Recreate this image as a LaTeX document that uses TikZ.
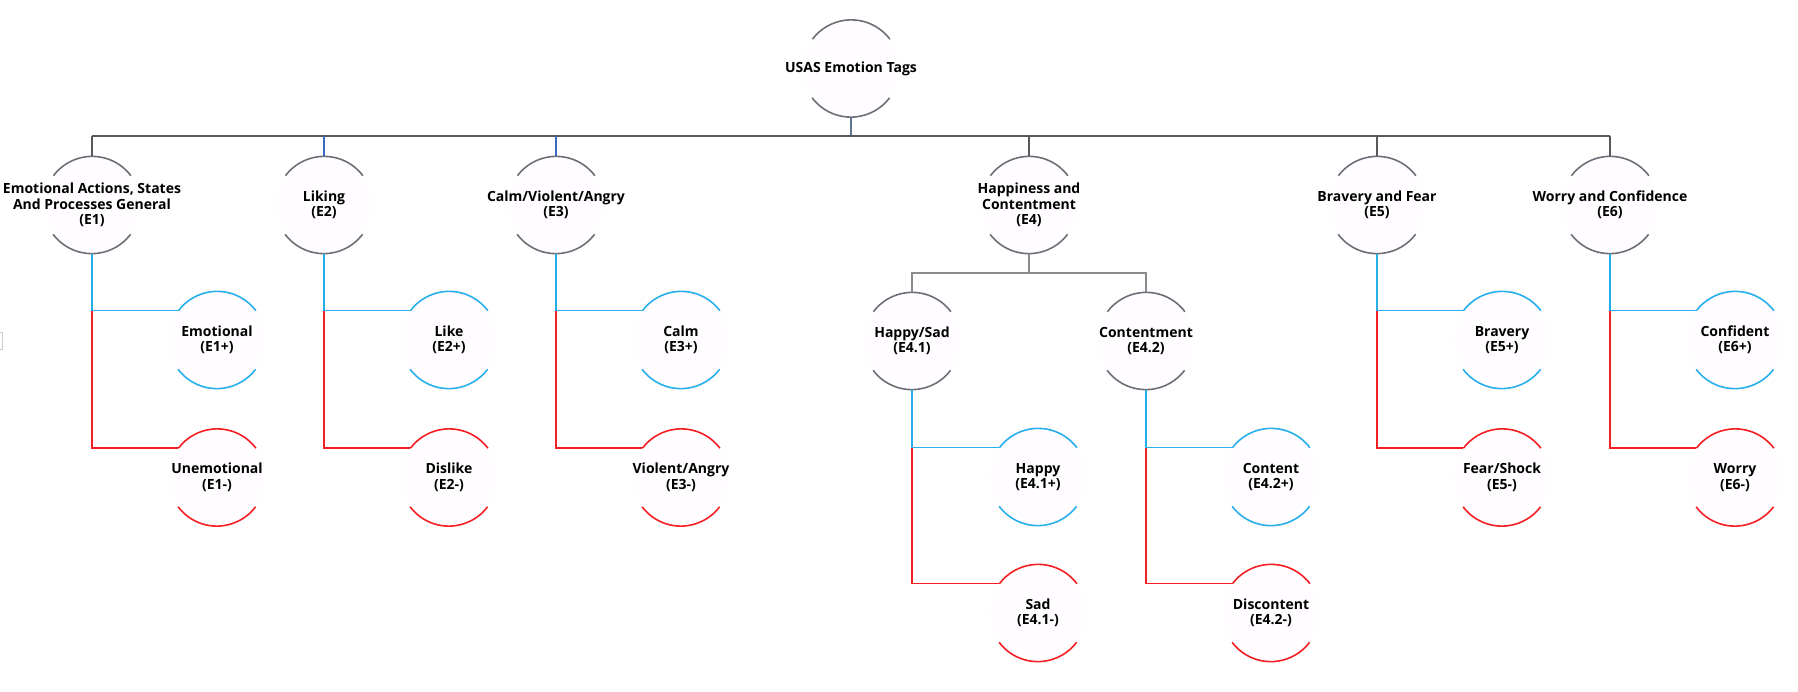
\documentclass[tikz,border=0pt]{standalone}
\usepackage{fontspec}
\setmainfont{Open Sans}
\definecolor{arcgray}{RGB}{110,110,118}
\definecolor{busgray}{RGB}{88,88,92}
\definecolor{subgray}{RGB}{140,140,140}
\definecolor{stemblue}{RGB}{60,105,190}
\definecolor{topstem}{RGB}{95,115,145}
\definecolor{posblue}{RGB}{40,175,235}
\definecolor{negred}{RGB}{245,30,35}
\definecolor{faint}{RGB}{255,253,255}
\newcommand\circarcs[2]{%
  \draw[#2] (#1.37) arc[start angle=37,end angle=143,radius=48.5pt];
  \draw[#2] (#1.217) arc[start angle=217,end angle=323,radius=48.5pt];}
\begin{document}
\begin{tikzpicture}[x=1pt,y=-1pt,
  circ/.style={circle,minimum size=97pt,inner sep=0pt,fill=faint},
  lbl/.style={font=\bfseries\fontsize{14}{15.5}\selectfont,align=center,text=black,inner sep=0pt},
  garc/.style={draw=arcgray,line width=1.6pt},
  barc/.style={draw=posblue,line width=1.6pt},
  rarc/.style={draw=negred,line width=1.6pt},
  busline/.style={draw=busgray,line width=2pt},
  subline/.style={draw=subgray,line width=1.8pt},
  bstem/.style={draw=stemblue,line width=1.8pt},
  pline/.style={draw=posblue,line width=1.5pt},
  nline/.style={draw=negred,line width=1.5pt}]
\useasboundingbox (0,0) rectangle (1798,692);
% nodes
\node[circ] (top) at (851,68.5) {};
\node[circ] (e1) at (92,205) {};
\node[circ] (e2) at (324,205) {};
\node[circ] (e3) at (556,205) {};
\node[circ] (e4) at (1029,205) {};
\node[circ] (e5) at (1377,205) {};
\node[circ] (e6) at (1610,205) {};
\node[circ] (e1p) at (217,340) {};
\node[circ] (e1m) at (217,477.5) {};
\node[circ] (e2p) at (449,340) {};
\node[circ] (e2m) at (449,477.5) {};
\node[circ] (e3p) at (681,340) {};
\node[circ] (e3m) at (681,477.5) {};
\node[circ] (e41) at (912,341) {};
\node[circ] (e42) at (1146,341) {};
\node[circ] (e41p) at (1038,477) {};
\node[circ] (e41m) at (1038,613) {};
\node[circ] (e42p) at (1271,477) {};
\node[circ] (e42m) at (1271,613) {};
\node[circ] (e5p) at (1502,340) {};
\node[circ] (e5m) at (1502,477.5) {};
\node[circ] (e6p) at (1735,340) {};
\node[circ] (e6m) at (1735,477.5) {};
% arcs
\circarcs{top}{garc}
\foreach \n in {e1,e2,e3,e4,e5,e6,e41,e42} {\circarcs{\n}{garc}}
\foreach \n in {e1p,e2p,e3p,e41p,e42p,e5p,e6p} {\circarcs{\n}{barc}}
\foreach \n in {e1m,e2m,e3m,e41m,e42m,e5m,e6m} {\circarcs{\n}{rarc}}
% labels
\node[lbl] (ttop) at (top) {USAS Emotion Tags};
\node[lbl] (te1) at (e1) {Emotional Actions, States\\And Processes General\\(E1)};
\node[lbl] (te2) at (e2) {Liking\\(E2)};
\node[lbl] (te3) at (e3) {Calm/Violent/Angry\\(E3)};
\node[lbl] (te4) at (e4) {Happiness and\\Contentment\\(E4)};
\node[lbl] (te5) at (e5) {Bravery and Fear\\(E5)};
\node[lbl] (te6) at (e6) {Worry and Confidence\\(E6)};
\node[lbl] (te1p) at (e1p) {Emotional\\(E1+)};
\node[lbl] (te1m) at (e1m) {Unemotional\\(E1-)};
\node[lbl] (te2p) at (e2p) {Like\\(E2+)};
\node[lbl] (te2m) at (e2m) {Dislike\\(E2-)};
\node[lbl] (te3p) at (e3p) {Calm\\(E3+)};
\node[lbl] (te3m) at (e3m) {Violent/Angry\\(E3-)};
\node[lbl] (te41) at (e41) {Happy/Sad\\(E4.1)};
\node[lbl] (te42) at (e42) {Contentment\\(E4.2)};
\node[lbl] (te41p) at (e41p) {Happy\\(E4.1+)};
\node[lbl] (te41m) at (e41m) {Sad\\(E4.1-)};
\node[lbl] (te42p) at (e42p) {Content\\(E4.2+)};
\node[lbl] (te42m) at (e42m) {Discontent\\(E4.2-)};
\node[lbl] (te5p) at (e5p) {Bravery\\(E5+)};
\node[lbl] (te5m) at (e5m) {Fear/Shock\\(E5-)};
\node[lbl] (te6p) at (e6p) {Confident\\(E6+)};
\node[lbl] (te6m) at (e6m) {Worry\\(E6-)};
% main bus
\coordinate (busy) at (0,136);
\draw[draw=topstem,line width=2pt] (top.south) -- (top.south |- busy);
\draw[busline] (e1.north |- busy) -- (e6.north |- busy);
\draw[busline] (e1.north |- busy) -- (e1.north);
\draw[bstem] (e2.north |- busy) -- (e2.north);
\draw[bstem] (e3.north |- busy) -- (e3.north);
\draw[busline] (e4.north |- busy) -- (e4.north);
\draw[busline] (e5.north |- busy) -- (e5.north);
\draw[busline] (e6.north |- busy) -- (e6.north);
% E4 sub bus
\coordinate (suby) at (0,273);
\draw[subline] (e4.south) -- (e4.south |- suby);
\draw[subline] (e41.north) -- (e41.north |- suby) -- (e42.north |- suby) -- (e42.north);
% branches
\foreach \p/\a/\b in {e1/e1p/e1m,e2/e2p/e2m,e3/e3p/e3m,e41/e41p/e41m,e42/e42p/e42m,e5/e5p/e5m,e6/e6p/e6m} {
  \draw[pline] (\p.south) |- (\a.143);
  \draw[nline] (\p.south |- \a.143) |- (\b.143);
}
% stray mark at left edge
\coordinate (m1) at (0,332);
\coordinate (m2) at (0,349);
\draw[draw=black!20,line width=0.8pt] (m1) -- ++(2.5,0) |- (m2);
\end{tikzpicture}
\end{document}
